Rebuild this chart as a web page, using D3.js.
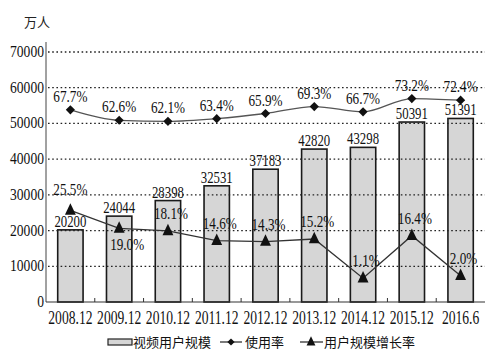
<!DOCTYPE html>
<html>
<head>
<meta charset="utf-8">
<script src="https://cdn.jsdelivr.net/npm/d3@7"></script>
<style>
    body { margin: 0; background: #fff; }
</style>
</head>
<body>
<div id="chart"></div>
<script>
const categories = ["2008.12", "2009.12", "2010.12", "2011.12", "2012.12", "2013.12", "2014.12", "2015.12", "2016.6"]
const users = [20200, 24044, 28398, 32531, 37183, 42820, 43298, 50391, 51391]
const usageRate = [67.7, 62.6, 62.1, 63.4, 65.9, 69.3, 66.7, 73.2, 72.4]
const growthRate = [25.5, 19.0, 18.1, 14.6, 14.3, 15.2, 1.1, 16.4, 2.0]
const yTicks = [0, 10000, 20000, 30000, 40000, 50000, 60000, 70000]
// which growth labels sit under the marker
const growthBelow = [false, true, false, false, false, false, false, false, false]

const SERIF = "'Liberation Serif', 'Times New Roman', serif"
const CJK = "'Noto Sans CJK SC', sans-serif"

const W = 500, H = 355
const margin = {left: 46, right: 15, top: 52, bottom: 53}
const width = W - margin.left - margin.right
const height = H - margin.top - margin.bottom

const svg = d3.select("#chart").append("svg")
    .attr("width", W)
    .attr("height", H)
    .style("font-family", SERIF)

const g = svg.append("g")
    .attr("transform", `translate(${margin.left}, ${margin.top})`)

const x = d3.scaleBand().domain(categories).range([0, width]).paddingInner(0.48).paddingOuter(0.24)
const xc = d => x(d) + x.bandwidth() / 2
const y = d3.scaleLinear().domain([0, 70000]).range([height, 0])
// hidden secondary scales for the two rate lines
const yUsage = d3.scaleLinear().domain([50, 80]).range([y(43650), y(60870)])
const yGrowth = d3.scaleLinear().domain([0, 30]).range([y(5800), y(29150)])

// the scanned type is tall and narrow, so stretch the glyphs vertically
function label(sel, size, sy, fx, fy) {
    return sel.append("text")
        .attr("transform", (d, i) => `translate(${fx(d, i)}, ${fy(d, i)}) scale(1, ${sy})`)
        .attr("fill", "#111")
        .style("font-family", SERIF)
        .style("font-size", size + "px")
}

const tallTriangle = {
    draw(ctx, size) {
        const w = Math.sqrt(size) * 0.68, h = Math.sqrt(size) * 0.9
        ctx.moveTo(0, -h)
        ctx.lineTo(w, h * 0.6)
        ctx.lineTo(-w, h * 0.6)
        ctx.closePath()
    }
}

/* BARS */
g.selectAll(".bar")
    .data(users)
    .enter()
    .append("rect")
    .attr("class", "bar")
    .attr("x", (d, i) => x(categories[i]))
    .attr("y", d => y(d))
    .attr("width", x.bandwidth())
    .attr("height", d => height - y(d))
    .attr("fill", "#d6d6d6")
    .attr("stroke", "#1a1a1a")
    .attr("stroke-width", 1.6)

/* GRID LINES */
g.selectAll(".grid")
    .data(yTicks.slice(1))
    .enter()
    .append("line")
    .attr("x1", 2)
    .attr("x2", width)
    .attr("y1", d => y(d))
    .attr("y2", d => y(d))
    .attr("stroke", "#222")
    .attr("stroke-width", 1.3)
    .attr("stroke-dasharray", "1.6,2.6")

/* AXES */
g.append("line")
    .attr("x1", 0).attr("x2", 0)
    .attr("y1", y(70000) - 10).attr("y2", height)
    .attr("stroke", "#444").attr("stroke-width", 1)
g.append("line")
    .attr("x1", 0).attr("x2", width)
    .attr("y1", height).attr("y2", height)
    .attr("stroke", "#333").attr("stroke-width", 1.2)

// small ticks between categories
g.selectAll(".xtick")
    .data(categories.slice(1))
    .enter()
    .append("line")
    .attr("x1", d => x(d) - x.step() * x.paddingInner() / 2)
    .attr("x2", d => x(d) - x.step() * x.paddingInner() / 2)
    .attr("y1", height)
    .attr("y2", height - 4)
    .attr("stroke", "#333")

label(g.selectAll(".ylabel").data(yTicks).enter(), 13.6, 1.2,
        () => -2, d => y(d) + 5)
    .attr("text-anchor", "end")
    .text(d => d)

label(g.selectAll(".xlabel").data(categories).enter(), 13.6, 1.35,
        d => xc(d), () => height + 22)
    .attr("text-anchor", "middle")
    .text(d => d)

svg.append("text")
    .attr("x", 24)
    .attr("y", 27)
    .attr("fill", "#222")
    .style("font-family", CJK)
    .style("font-size", "13px")
    .text("万人")

/* BAR LABELS */
label(g.selectAll(".barlabel").data(users).enter(), 12.8, 1.35,
        (d, i) => xc(categories[i]), d => y(d) - 3)
    .attr("text-anchor", "middle")
    .text(d => d)

/* USAGE LINE */
g.append("path")
    .datum(usageRate)
    .attr("fill", "none")
    .attr("stroke", "#555")
    .attr("stroke-width", 1.3)
    .attr("d", d3.line((d, i) => xc(categories[i]), d => yUsage(d)).curve(d3.curveMonotoneX))

g.selectAll(".diamond")
    .data(usageRate)
    .enter()
    .append("path")
    .attr("d", d3.symbol(d3.symbolSquare, 42))
    .attr("transform", (d, i) => `translate(${xc(categories[i])}, ${yUsage(d)}) rotate(45)`)
    .attr("fill", "#111")

label(g.selectAll(".usagelabel").data(usageRate).enter(), 13.2, 1.25,
        (d, i) => xc(categories[i]), d => yUsage(d) - 8)
    .attr("text-anchor", "middle")
    .text(d => d.toFixed(1) + "%")

/* GROWTH LINE */
g.append("path")
    .datum(growthRate)
    .attr("fill", "none")
    .attr("stroke", "#333")
    .attr("stroke-width", 1.3)
    .attr("d", d3.line((d, i) => xc(categories[i]), d => yGrowth(d)))

g.selectAll(".triangle")
    .data(growthRate)
    .enter()
    .append("path")
    .attr("d", d3.symbol(tallTriangle, 64))
    .attr("transform", (d, i) => `translate(${xc(categories[i])}, ${yGrowth(d)})`)
    .attr("fill", "#111")

label(g.selectAll(".growthlabel").data(growthRate).enter(), 13.2, 1.3,
        (d, i) => xc(categories[i]) + (i === 0 ? 0 : growthBelow[i] ? 8 : 3),
        (d, i) => growthBelow[i] ? yGrowth(d) + 22 : yGrowth(d) - (i === 0 ? 15 : 12))
    .attr("text-anchor", "middle")
    .text(d => d.toFixed(1) + "%")

/* LEGEND */
const legend = svg.append("g").attr("transform", "translate(0, 342)")
legend.append("rect")
    .attr("x", 108).attr("y", -3)
    .attr("width", 24).attr("height", 6)
    .attr("fill", "#d6d6d6").attr("stroke", "#222").attr("stroke-width", 1.2)
legend.append("text")
    .attr("x", 133).attr("y", 0).attr("dy", "0.35em").attr("fill", "#111")
    .style("font-family", CJK).style("font-size", "13px").text("视频用户规模")

legend.append("line")
    .attr("x1", 220).attr("x2", 242).attr("y1", 0).attr("y2", 0)
    .attr("stroke", "#333").attr("stroke-width", 1.3)
legend.append("path")
    .attr("d", d3.symbol(d3.symbolSquare, 26))
    .attr("transform", "translate(231, 0) rotate(45)").attr("fill", "#111")
legend.append("text")
    .attr("x", 245).attr("y", 0).attr("dy", "0.35em").attr("fill", "#111")
    .style("font-family", CJK).style("font-size", "13px").text("使用率")

legend.append("line")
    .attr("x1", 300).attr("x2", 323).attr("y1", 0).attr("y2", 0)
    .attr("stroke", "#333").attr("stroke-width", 1.3)
legend.append("path")
    .attr("d", d3.symbol(tallTriangle, 42))
    .attr("transform", "translate(311, 0)").attr("fill", "#111")
legend.append("text")
    .attr("x", 324).attr("y", 0).attr("dy", "0.35em").attr("fill", "#111")
    .style("font-family", CJK).style("font-size", "13px").text("用户规模增长率")
</script>
</body>
</html>
